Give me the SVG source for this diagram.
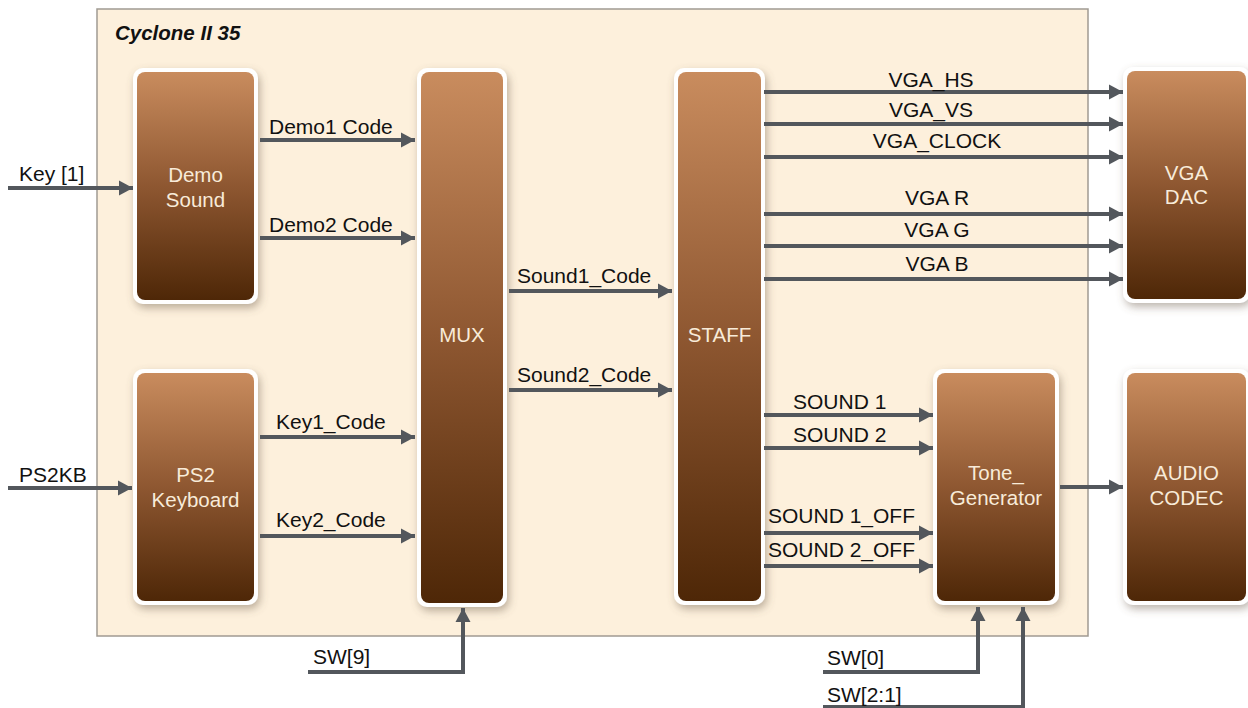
<svg xmlns="http://www.w3.org/2000/svg" width="1248" height="708" viewBox="0 0 1248 708">
<defs>
<linearGradient id="brown" x1="0" y1="0" x2="0" y2="1">
<stop offset="0" stop-color="#c98c5e"/>
<stop offset="0.5" stop-color="#8e5731"/>
<stop offset="1" stop-color="#4e2707"/>
</linearGradient>
<filter id="shadow" x="-30%" y="-10%" width="160%" height="125%">
<feDropShadow dx="2" dy="4" stdDeviation="4" flood-color="#6b5a48" flood-opacity="0.45"/>
</filter>
<marker id="arr" markerUnits="userSpaceOnUse" markerWidth="15" markerHeight="16" refX="14" refY="8" orient="auto">
<path d="M0,0.5 L14,8 L0,15.5 z" fill="#53575c"/>
</marker>
</defs>
<style>
.frame{fill:#fdf0dc;stroke:#a09a92;stroke-width:1.5}
.outer{fill:#ffffff;filter:url(#shadow)}
.inner{fill:url(#brown)}
.nt{font-family:"Liberation Sans",Arial,sans-serif;font-size:20.5px;fill:#f8ebd9;text-anchor:middle}
.lb{font-family:"Liberation Sans",Arial,sans-serif;font-size:21px;fill:#111111}
.mid{text-anchor:middle}
.title{font-family:"Liberation Sans",Arial,sans-serif;font-size:20.5px;font-weight:bold;font-style:italic;fill:#111111}
.c{fill:none;stroke:#53575c;stroke-width:4;marker-end:url(#arr)}
</style>
<rect class="frame" x="97" y="9" width="991" height="627"/>
<text class="title" x="115" y="40">Cyclone II 35</text>

<g id="demo-sound">
<rect class="outer" x="133" y="68" width="125" height="236" rx="10"/>
<rect class="inner" x="137" y="72" width="117" height="228" rx="8"/>
<text class="nt" x="195.5" y="182">Demo</text>
<text class="nt" x="195.5" y="207">Sound</text>
</g>
<g id="ps2-keyboard">
<rect class="outer" x="133" y="369" width="125" height="236" rx="10"/>
<rect class="inner" x="137" y="373" width="117" height="228" rx="8"/>
<text class="nt" x="195.5" y="482">PS2</text>
<text class="nt" x="195.5" y="507">Keyboard</text>
</g>
<g id="mux">
<rect class="outer" x="417" y="68" width="90" height="539" rx="10"/>
<rect class="inner" x="421" y="72" width="82" height="531" rx="8"/>
<text class="nt" x="462" y="342">MUX</text>
</g>
<g id="staff">
<rect class="outer" x="674" y="68" width="91" height="537" rx="10"/>
<rect class="inner" x="678" y="72" width="83" height="529" rx="8"/>
<text class="nt" x="719.5" y="342">STAFF</text>
</g>
<g id="vga-dac">
<rect class="outer" x="1123" y="67" width="127" height="236" rx="10"/>
<rect class="inner" x="1127" y="71" width="119" height="228" rx="8"/>
<text class="nt" x="1186.5" y="180">VGA</text>
<text class="nt" x="1186.5" y="204">DAC</text>
</g>
<g id="tone-generator">
<rect class="outer" x="933" y="369" width="126" height="236" rx="10"/>
<rect class="inner" x="937" y="373" width="118" height="228" rx="8"/>
<text class="nt" x="996" y="480">Tone_</text>
<text class="nt" x="996" y="505">Generator</text>
</g>
<g id="audio-codec">
<rect class="outer" x="1123" y="369" width="127" height="236" rx="10"/>
<rect class="inner" x="1127" y="373" width="119" height="228" rx="8"/>
<text class="nt" x="1186.5" y="480">AUDIO</text>
<text class="nt" x="1186.5" y="505">CODEC</text>
</g>

<g id="connectors">
<path class="c" d="M8,188 H133"/>
<path class="c" d="M260,140 H415"/>
<path class="c" d="M260,238 H415"/>
<path class="c" d="M8,488 H132"/>
<path class="c" d="M260,437 H415"/>
<path class="c" d="M260,536 H415"/>
<path class="c" d="M509,291 H672"/>
<path class="c" d="M509,390 H672"/>
<path class="c" d="M764,92 H1123"/>
<path class="c" d="M764,124 H1123"/>
<path class="c" d="M764,157 H1123"/>
<path class="c" d="M764,214 H1123"/>
<path class="c" d="M764,246 H1123"/>
<path class="c" d="M764,279 H1123"/>
<path class="c" d="M764,415 H933"/>
<path class="c" d="M764,448 H933"/>
<path class="c" d="M764,533 H933"/>
<path class="c" d="M764,566 H933"/>
<path class="c" d="M1060,487 H1123"/>
<path class="c" d="M308,672 H463 V608"/>
<path class="c" d="M823,672 H978 V607"/>
<path class="c" d="M823,707 H1023 V607"/>
</g>

<g id="labels">
<text class="lb" x="19" y="181">Key [1]</text>
<text class="lb" x="269" y="134">Demo1 Code</text>
<text class="lb" x="269" y="232">Demo2 Code</text>
<text class="lb" x="19" y="482">PS2KB</text>
<text class="lb" x="276" y="429">Key1_Code</text>
<text class="lb" x="276" y="527">Key2_Code</text>
<text class="lb" x="517" y="283">Sound1_Code</text>
<text class="lb" x="517" y="382">Sound2_Code</text>
<text class="lb mid" x="931" y="87">VGA_HS</text>
<text class="lb mid" x="931" y="117">VGA_VS</text>
<text class="lb mid" x="937" y="148">VGA_CLOCK</text>
<text class="lb mid" x="937" y="205">VGA R</text>
<text class="lb mid" x="937" y="237">VGA G</text>
<text class="lb mid" x="937" y="271">VGA B</text>
<text class="lb" x="793" y="409">SOUND 1</text>
<text class="lb" x="793" y="442">SOUND 2</text>
<text class="lb" x="768" y="523">SOUND 1_OFF</text>
<text class="lb" x="768" y="557">SOUND 2_OFF</text>
<text class="lb" x="313" y="664">SW[9]</text>
<text class="lb" x="827" y="665">SW[0]</text>
<text class="lb" x="827" y="702">SW[2:1]</text>
</g>
</svg>
